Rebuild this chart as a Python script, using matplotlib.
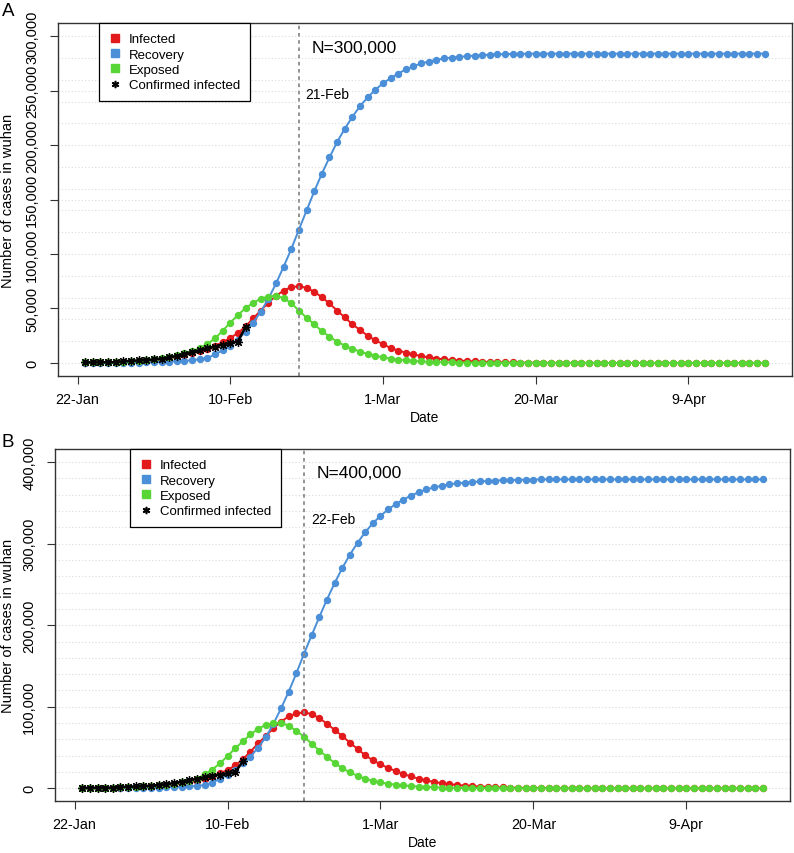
import matplotlib
matplotlib.use("Agg")
import matplotlib.pyplot as plt
from matplotlib.lines import Line2D
from matplotlib.ticker import MultipleLocator

plt.rcParams["font.family"] = ["Liberation Sans", "DejaVu Sans"]

# ---- data (day index 1 = first model point) ----
days = list(range(1, 91))
confirmed_days = list(range(1, 23))
confirmed = [450, 500, 570, 620, 700, 1600, 1900, 2300, 2600, 3200,
             4100, 5100, 6400, 8300, 10100, 11600, 13600, 15000, 16900, 18500,
             19600, 33000]

date_ticks = [0, 20, 40, 60, 80]
date_labels = ["22-Jan", "10-Feb", "1-Mar", "20-Mar", "9-Apr"]

# panel A, N = 300,000
infected_a = [400, 450, 520, 600, 700, 1000, 1300, 1700, 2200, 2800,
              3600, 4500, 5800, 7200, 9000, 11000, 13000, 15900, 19000, 22800,
              27500, 33500, 41000, 48100, 55500, 61600, 66500, 69600, 70400, 69000,
              65300, 60400, 54600, 48100, 41800, 35500, 30300, 25000, 20800, 17300,
              13700, 11400, 9500, 7900, 6300, 5100, 4100, 3300, 2700, 2200,
              1800, 1400, 1100, 900, 700, 550, 450, 350, 280, 220,
              170, 130, 100, 80, 60, 50, 40, 30, 25, 20,
              15, 12, 10, 8, 6, 5, 4, 3, 2, 2,
              1, 1, 1, 1, 0, 0, 0, 0, 0, 0]
recovery_a = [0, 30, 60, 100, 150, 200, 280, 370, 480, 620,
              900, 1300, 1600, 1900, 2500, 3400, 4600, 7800, 11600, 16000,
              21500, 28500, 37000, 47000, 59000, 73000, 88500, 104700, 122500, 140000,
              157500, 173800, 188700, 202900, 215000, 226000, 235800, 243800, 250800, 256700,
              261400, 265700, 269400, 272400, 274900, 276700, 278300, 279500, 280400, 281000,
              281600, 282200, 282600, 283000, 283300, 283500, 283700, 283800, 283900, 284000,
              284000, 284000, 284000, 284000, 284000, 284000, 284000, 284000, 284000, 284000,
              284000, 284000, 284000, 284000, 284000, 284000, 284000, 284000, 284000, 284000,
              284000, 284000, 284000, 284000, 284000, 284000, 284000, 284000, 284000, 284000]
exposed_a = [500, 600, 700, 850, 1000, 1300, 1700, 2200, 2800, 3500,
             4500, 5600, 7000, 8700, 10800, 13500, 17500, 22500, 29500, 37000,
             44000, 50300, 55200, 59000, 61000, 61700, 59500, 54800, 48100, 41500,
             35500, 29200, 24200, 19500, 16000, 12900, 10500, 8400, 6600, 5100,
             4000, 3100, 2500, 1900, 1500, 1100, 850, 650, 500, 380,
             290, 220, 170, 130, 100, 80, 60, 50, 40, 30,
             20, 15, 12, 10, 8, 6, 5, 4, 3, 2,
             2, 1, 1, 1, 1, 0, 0, 0, 0, 0,
             0, 0, 0, 0, 0, 0, 0, 0, 0, 0]

# panel B, N = 400,000
infected_b = [350, 400, 450, 520, 600, 850, 1100, 1400, 1800, 2300,
              3000, 3700, 4700, 5800, 7300, 9000, 11500, 14800, 18400, 22400,
              28000, 35600, 45000, 55000, 64100, 73800, 81800, 88200, 91800, 93200,
              90900, 86200, 79100, 71700, 64100, 56000, 48200, 40500, 34300, 29400,
              24900, 21200, 17500, 14500, 11800, 9600, 7800, 6300, 5100, 4100,
              3300, 2600, 2100, 1700, 1300, 1000, 800, 600, 450, 350,
              270, 210, 160, 120, 90, 70, 55, 40, 30, 25,
              20, 15, 10, 8, 6, 5, 4, 3, 2, 2,
              1, 1, 1, 1, 0, 0, 0, 0, 0, 0]
recovery_b = [0, 20, 50, 90, 130, 180, 250, 330, 430, 560,
              750, 1100, 1500, 1800, 2300, 2900, 4000, 7000, 11500, 16800,
              22500, 30600, 38900, 49900, 62500, 79000, 98000, 118500, 141000, 165000,
              187600, 210000, 231500, 251500, 270000, 286500, 301000, 314000, 325000, 334000,
              342000, 348500, 354000, 359000, 363000, 366500, 369000, 371000, 372700, 374000,
              374800, 375600, 376300, 376800, 377300, 377700, 378000, 378200, 378400, 378600,
              378800, 378800, 378800, 378800, 378800, 378800, 378800, 378800, 378800, 378800,
              378800, 378800, 378800, 378800, 378800, 378800, 378800, 378800, 378800, 378800,
              378800, 378800, 378800, 378800, 378800, 378800, 378800, 378800, 378800, 378800]
exposed_b = [450, 550, 650, 750, 900, 1150, 1450, 1850, 2300, 2900,
             3700, 4600, 5800, 7200, 9000, 11500, 17000, 23000, 30500, 39500,
             49000, 57500, 66000, 73000, 77800, 80000, 80200, 76800, 70300, 63400,
             54500, 46300, 38600, 31000, 24700, 19500, 15300, 11800, 9200, 7200,
             5500, 4500, 3500, 2700, 2100, 1600, 1200, 900, 700, 550,
             420, 320, 250, 190, 150, 110, 85, 65, 50, 40,
             30, 22, 17, 13, 10, 8, 6, 5, 4, 3,
             2, 2, 1, 1, 1, 1, 0, 0, 0, 0,
             0, 0, 0, 0, 0, 0, 0, 0, 0, 0]

yticks_a = [0, 50000, 100000, 150000, 200000, 250000, 300000]
yticks_b = [0, 100000, 200000, 300000, 400000]

RED = "#E31A1C"
BLUE = "#4A8FD8"
GREEN = "#58D636"
EDGE = "#333333"


def draw_panel(ax, infected, recovery, exposed, yticks, ytop, peak_day, peak_label,
               n_label, n_xy, peak_xy, legend_x, ylabel_x):
    span = days[-1] - days[0]
    ax.set_xlim(days[0] - 0.04 * span, days[-1] + 0.04 * span)
    ax.set_ylim(-0.04 * ytop, 1.04 * ytop)

    ax.yaxis.set_minor_locator(MultipleLocator(20000))
    ax.grid(axis="y", which="both", color="#DADADA", lw=0.8, ls=(0, (1, 2)))
    ax.set_axisbelow(True)

    style = dict(marker="o", lw=1.4, ms=4.3)
    ax.plot(days, infected, color=RED, mec=RED, **style)
    ax.plot(days, recovery, color=BLUE, mec=BLUE, **style)
    ax.plot(days, exposed, color=GREEN, mec=GREEN, **style)
    ax.plot(confirmed_days, confirmed, color="black", lw=1.8, marker=(8, 2, 0),
            ms=6.5, mew=0.9)

    ax.axvline(peak_day, color="#8A8A8A", lw=1.3, ls=(0, (2, 2)))
    ax.text(*n_xy, n_label, fontsize=12.5, ha="left", va="center")
    ax.text(*peak_xy, peak_label, fontsize=10, ha="left", va="center")

    ax.set_xticks(date_ticks)
    ax.set_xticklabels(date_labels, fontsize=10.3)
    ax.set_yticks(yticks)
    ax.set_yticklabels([f"{v:,}" for v in yticks], rotation=90, va="center",
                       fontsize=10.5)
    ax.tick_params(axis="both", which="major", direction="out", length=5.5, width=0.8,
                   color=EDGE)
    ax.tick_params(axis="y", which="major", pad=8)
    ax.tick_params(axis="x", which="major", pad=6)
    ax.tick_params(which="minor", length=0)
    for s in ax.spines.values():
        s.set_color(EDGE)
        s.set_linewidth(1.0)

    ax.set_xlabel("Date", fontsize=10, labelpad=3)
    ax.set_ylabel("Number of cases in wuhan", fontsize=10.5)
    ax.yaxis.set_label_coords(ylabel_x, 0.5)

    handles = [
        Line2D([], [], ls="none", marker="s", ms=5.8, color=RED),
        Line2D([], [], ls="none", marker="s", ms=5.8, color=BLUE),
        Line2D([], [], ls="none", marker="s", ms=5.8, color=GREEN),
        Line2D([], [], ls="none", marker="$*$", ms=4.5, color="black"),
    ]
    leg = ax.legend(handles, ["Infected", "Recovery", "Exposed", "Confirmed infected"],
                    loc="upper left", bbox_to_anchor=(legend_x, 1.0), fontsize=9.5,
                    frameon=True, fancybox=False, edgecolor="black", framealpha=1,
                    borderaxespad=0, borderpad=0.75, handlelength=1.0,
                    handletextpad=0.5, labelspacing=0.24)
    leg.get_frame().set_linewidth(0.9)


fig = plt.figure(figsize=(7.94, 8.54), dpi=100)
ax_a = fig.add_axes([0.0730, 0.5585, 0.9244, 0.4133])
ax_b = fig.add_axes([0.0693, 0.0605, 0.9257, 0.4125])

draw_panel(ax_a, infected_a, recovery_a, exposed_a, yticks_a, 300000, 29, "21-Feb",
           "N=300,000", (30.7, 289600), (29.8, 246600), 0.0559, -0.0586)
draw_panel(ax_b, infected_b, recovery_b, exposed_b, yticks_b, 400000, 30, "22-Feb",
           "N=400,000", (31.6, 387000), (30.9, 329800), 0.102, -0.0544)

fig.text(0.002, 0.9863, "A", fontsize=13.5, ha="left", va="center")
fig.text(0.002, 0.4819, "B", fontsize=13.5, ha="left", va="center")

fig.savefig("out.png", dpi=100)
